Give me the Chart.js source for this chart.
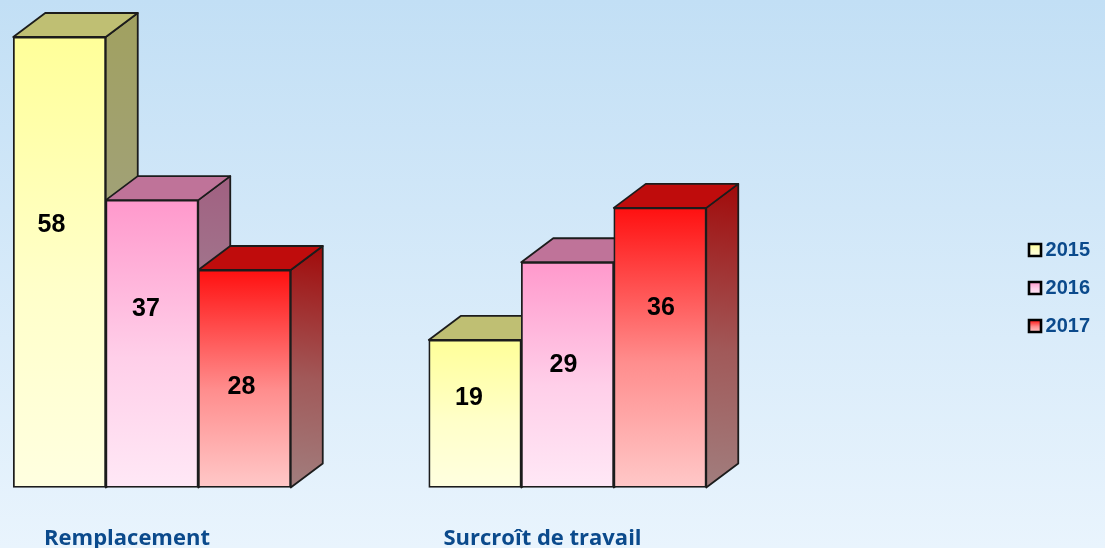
<!DOCTYPE html>
<html><head><meta charset="utf-8">
<style>html,body{margin:0;padding:0;background:#e8f3fc}canvas{display:block}</style>
<script src="https://cdn.jsdelivr.net/npm/chart.js@4"></script>
</head><body><canvas id="c" width="1105" height="548"></canvas>
<script>
const categories = ["Remplacement", "Surcroît de travail"];
const seriesNames = ["2015", "2016", "2017"];
const values2015 = [58, 19];
const values2016 = [37, 29];
const values2017 = [28, 36];
const seriesValues = [values2015, values2016, values2017];
const topColors = [[255,255,153],[255,153,204],[255,16,16]];
const bottomColors = [[255,255,224],[255,232,246],[255,200,200]];
const labelNudges = [[[-8,-37],[-6,-16]],[[-6,-35],[-4,-10]],[[-3,8],[1,-40]]];
const DEPTH_X = 32, DEPTH_Y = 24;
const rgb = (c, k=1) => `rgb(${c.map(v=>Math.round(v*k)).join(",")})`;
function grad(ctx, y0, y1, i, k=1, x0=0, x1=0){
  const g = ctx.createLinearGradient(x0,y0,x1,y1);
  const a = topColors[i], b = bottomColors[i];
  g.addColorStop(0, rgb(a,k));
  g.addColorStop(0.55, rgb(a.map((v,n)=>v+(b[n]-v)*0.68),k));
  g.addColorStop(1, rgb(b,k));
  return g;
}
const scene = {
  id:"scene",
  beforeDraw(chart){
    const {ctx,width,height} = chart;
    const g = ctx.createLinearGradient(0,0,0,height);
    g.addColorStop(0,"#c2dff5"); g.addColorStop(1,"#e9f4fd");
    ctx.save(); ctx.fillStyle=g; ctx.fillRect(0,0,width,height); ctx.restore();
    chart.legend.legendHitBoxes.forEach((b,i)=>{
      const cy = b.top + b.height/2;
      chart.legend.legendItems[i].fillStyle = grad(ctx, cy-6, cy+6, i);
    });
  },
  beforeDatasetsDraw(chart){
    const {ctx} = chart;
    ctx.save();
    ctx.lineWidth = 1.8; ctx.strokeStyle = "#1c1c1c"; ctx.lineJoin="round";
    chart.data.datasets.forEach((d,i)=>{
      chart.getDatasetMeta(i).data.forEach(bar=>{
        const {x,y,base,width} = bar.getProps(["x","y","base","width"]);
        const r = x+width/2, l = x-width/2;
        ctx.beginPath();
        ctx.moveTo(r,y); ctx.lineTo(r+DEPTH_X,y-DEPTH_Y); ctx.lineTo(r+DEPTH_X,base-DEPTH_Y); ctx.lineTo(r,base); ctx.closePath();
        ctx.fillStyle = grad(ctx,y-DEPTH_Y,base,i,0.63,r+DEPTH_X,r); ctx.fill(); ctx.stroke();
        ctx.beginPath();
        ctx.moveTo(l,y); ctx.lineTo(l+DEPTH_X,y-DEPTH_Y); ctx.lineTo(r+DEPTH_X,y-DEPTH_Y); ctx.lineTo(r,y); ctx.closePath();
        ctx.fillStyle = rgb(topColors[i],0.75); ctx.fill(); ctx.stroke();
      });
    });
    ctx.restore();
  },
  afterDatasetsDraw(chart){
    const {ctx} = chart;
    ctx.save();
    ctx.font = "bold 25px 'Liberation Sans'"; ctx.fillStyle="#000"; ctx.textAlign="center"; ctx.textBaseline="middle";
    chart.data.datasets.forEach((d,i)=>{
      chart.getDatasetMeta(i).data.forEach((bar,j)=>{
        const {x,y,base} = bar.getProps(["x","y","base"]);
        const n = labelNudges[i][j];
        ctx.fillText(String(d.data[j]), x+n[0], (y+base)/2+n[1]);
      });
    });
    ctx.restore();
  }
};
new Chart(document.getElementById("c"),{
  type:"bar",
  data:{labels:categories,datasets:seriesNames.map((name,i)=>({
    label:name,data:seriesValues[i],clip:false,
    barThickness:92.5,borderWidth:1.8,borderColor:"#1c1c1c",borderSkipped:false,
    backgroundColor:(c)=>{
      const s=c.chart.scales.y; if(!s||c.raw===undefined) return rgb(topColors[i]);
      return grad(c.chart.ctx,s.getPixelForValue(c.raw),s.getPixelForValue(0),i);
    }
  }))},
  options:{
    responsive:false,animation:false,
    layout:{padding:{left:152,top:28,bottom:0,right:5}},
    plugins:{
      tooltip:{enabled:false},
      legend:{position:"right",align:"center",labels:{
        usePointStyle:true,pointStyle:"rect",boxWidth:1,boxHeight:12,padding:18,
        color:"#0b4a8c",font:{family:"'Liberation Sans'",weight:"bold",size:20},
        generateLabels:(chart)=>chart.data.datasets.map((d,i)=>({
          text:d.label,fillStyle:rgb(topColors[i]),strokeStyle:"#000",lineWidth:2.6,
          pointStyle:"rect",fontColor:"#0b4a8c",datasetIndex:i,hidden:false
        }))
      }}
    },
    scales:{
      x:{offset:false,grid:{display:false},border:{display:false},
        ticks:{autoSkip:false,maxRotation:0,minRotation:0,labelOffset:-25,padding:30,color:"#0b4a8c",
          font:{family:"'Open Sans'",weight:"bold",size:22}},
        afterFit(s){s.height=60.5;s.paddingLeft=0;s.paddingRight=0;}},
      y:{position:"right",min:0,max:59.16,grid:{display:false},border:{display:false},
        ticks:{display:false},afterFit(s){s.width=449;}}
    }
  },
  plugins:[scene]
});
</script></body></html>
